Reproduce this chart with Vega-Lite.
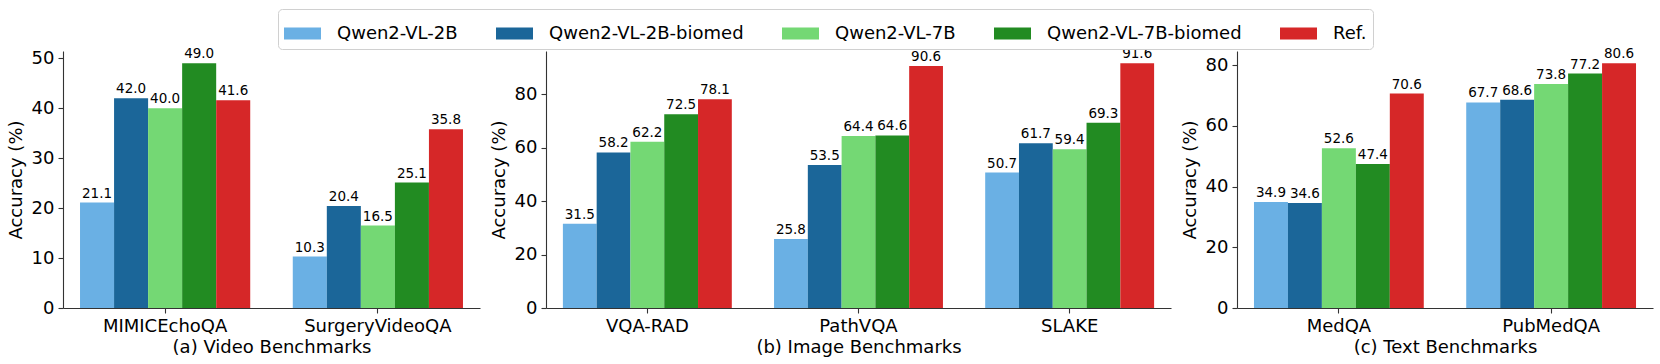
{
  "$schema": "https://vega.github.io/schema/vega-lite/v6.json",
  "padding": {"left": 7, "top": 8, "right": 5, "bottom": 5},
  "autosize": {"type": "pad"},
  "bounds": "flush",
  "spacing": 66,
  "background": "white",
  "config": {
    "font": "DejaVu Sans",
    "view": {"stroke": null},
    "axis": {
      "grid": false,
      "domainColor": "#333333",
      "domainWidth": 1.1,
      "tickColor": "#333333",
      "tickWidth": 1.1,
      "tickSize": 5,
      "labelFont": "DejaVu Sans",
      "labelFontSize": 18,
      "labelColor": "black",
      "labelPadding": 4,
      "titleFont": "DejaVu Sans",
      "titleFontSize": 18,
      "titleFontWeight": "normal",
      "titleColor": "black"
    },
    "axisX": {"labelAngle": 0, "titlePadding": 3},
    "axisY": {"titlePadding": 6},
    "legend": {
      "labelFont": "DejaVu Sans",
      "labelFontSize": 18,
      "labelColor": "black",
      "labelLimit": 0,
      "gridAlign": "none",
      "symbolType": "M-1,-0.324L1,-0.324L1,0.324L-1,0.324Z",
      "symbolSize": 1369,
      "symbolStrokeWidth": 0,
      "labelOffset": 16,
      "columnPadding": 38,
      "padding": 6,
      "strokeColor": "#d0d0d0",
      "fillColor": "white",
      "cornerRadius": 4
    }
  },
  "datasets": {
    "d": [
      {"panel": "a", "benchmark": "MIMICEchoQA", "model": "Qwen2-VL-2B", "value": 21.1},
      {"panel": "a", "benchmark": "MIMICEchoQA", "model": "Qwen2-VL-2B-biomed", "value": 42.0},
      {"panel": "a", "benchmark": "MIMICEchoQA", "model": "Qwen2-VL-7B", "value": 40.0},
      {"panel": "a", "benchmark": "MIMICEchoQA", "model": "Qwen2-VL-7B-biomed", "value": 49.0},
      {"panel": "a", "benchmark": "MIMICEchoQA", "model": "Ref.", "value": 41.6},
      {"panel": "a", "benchmark": "SurgeryVideoQA", "model": "Qwen2-VL-2B", "value": 10.3},
      {"panel": "a", "benchmark": "SurgeryVideoQA", "model": "Qwen2-VL-2B-biomed", "value": 20.4},
      {"panel": "a", "benchmark": "SurgeryVideoQA", "model": "Qwen2-VL-7B", "value": 16.5},
      {"panel": "a", "benchmark": "SurgeryVideoQA", "model": "Qwen2-VL-7B-biomed", "value": 25.1},
      {"panel": "a", "benchmark": "SurgeryVideoQA", "model": "Ref.", "value": 35.8},
      {"panel": "b", "benchmark": "VQA-RAD", "model": "Qwen2-VL-2B", "value": 31.5},
      {"panel": "b", "benchmark": "VQA-RAD", "model": "Qwen2-VL-2B-biomed", "value": 58.2},
      {"panel": "b", "benchmark": "VQA-RAD", "model": "Qwen2-VL-7B", "value": 62.2},
      {"panel": "b", "benchmark": "VQA-RAD", "model": "Qwen2-VL-7B-biomed", "value": 72.5},
      {"panel": "b", "benchmark": "VQA-RAD", "model": "Ref.", "value": 78.1},
      {"panel": "b", "benchmark": "PathVQA", "model": "Qwen2-VL-2B", "value": 25.8},
      {"panel": "b", "benchmark": "PathVQA", "model": "Qwen2-VL-2B-biomed", "value": 53.5},
      {"panel": "b", "benchmark": "PathVQA", "model": "Qwen2-VL-7B", "value": 64.4},
      {"panel": "b", "benchmark": "PathVQA", "model": "Qwen2-VL-7B-biomed", "value": 64.6},
      {"panel": "b", "benchmark": "PathVQA", "model": "Ref.", "value": 90.6},
      {"panel": "b", "benchmark": "SLAKE", "model": "Qwen2-VL-2B", "value": 50.7},
      {"panel": "b", "benchmark": "SLAKE", "model": "Qwen2-VL-2B-biomed", "value": 61.7},
      {"panel": "b", "benchmark": "SLAKE", "model": "Qwen2-VL-7B", "value": 59.4},
      {"panel": "b", "benchmark": "SLAKE", "model": "Qwen2-VL-7B-biomed", "value": 69.3},
      {"panel": "b", "benchmark": "SLAKE", "model": "Ref.", "value": 91.6},
      {"panel": "c", "benchmark": "MedQA", "model": "Qwen2-VL-2B", "value": 34.9},
      {"panel": "c", "benchmark": "MedQA", "model": "Qwen2-VL-2B-biomed", "value": 34.6},
      {"panel": "c", "benchmark": "MedQA", "model": "Qwen2-VL-7B", "value": 52.6},
      {"panel": "c", "benchmark": "MedQA", "model": "Qwen2-VL-7B-biomed", "value": 47.4},
      {"panel": "c", "benchmark": "MedQA", "model": "Ref.", "value": 70.6},
      {"panel": "c", "benchmark": "PubMedQA", "model": "Qwen2-VL-2B", "value": 67.7},
      {"panel": "c", "benchmark": "PubMedQA", "model": "Qwen2-VL-2B-biomed", "value": 68.6},
      {"panel": "c", "benchmark": "PubMedQA", "model": "Qwen2-VL-7B", "value": 73.8},
      {"panel": "c", "benchmark": "PubMedQA", "model": "Qwen2-VL-7B-biomed", "value": 77.2},
      {"panel": "c", "benchmark": "PubMedQA", "model": "Ref.", "value": 80.6}
    ]
  },
  "resolve": {"scale": {"x": "independent", "y": "independent", "xOffset": "independent", "color": "shared"}},
  "hconcat": [
    {
      "width": 417,
      "height": 257,
      "data": {"name": "d"},
      "transform": [{"filter": "datum.panel === 'a'"}],
      "encoding": {
        "x": {"field": "benchmark", "type": "nominal", "sort": ["MIMICEchoQA", "SurgeryVideoQA"], "scale": {"paddingInner": 0.2, "paddingOuter": 0.08}, "axis": {"title": "(a) Video Benchmarks"}},
        "xOffset": {"field": "model", "type": "nominal", "sort": ["Qwen2-VL-2B", "Qwen2-VL-2B-biomed", "Qwen2-VL-7B", "Qwen2-VL-7B-biomed", "Ref."], "scale": {"paddingInner": 0, "paddingOuter": 0}},
        "y": {"field": "value", "type": "quantitative", "scale": {"domain": [0, 51.45], "nice": false}, "axis": {"title": "Accuracy (%)", "values": [0, 10, 20, 30, 40, 50]}}
      },
      "layer": [
        {
          "mark": {"type": "bar"},
          "encoding": {
            "color": {"field": "model", "type": "nominal", "scale": {"domain": ["Qwen2-VL-2B", "Qwen2-VL-2B-biomed", "Qwen2-VL-7B", "Qwen2-VL-7B-biomed", "Ref."], "range": ["#6AB0E4", "#1B6699", "#74D874", "#228B22", "#D62728"]}, "legend": {"title": null, "orient": "none", "direction": "horizontal", "columns": 5, "legendX": 215, "legendY": -42}}
          }
        },
        {
          "mark": {"type": "text", "align": "center", "baseline": "alphabetic", "dy": -5, "fontSize": 13.5, "color": "black"},
          "encoding": {"text": {"field": "value", "type": "quantitative", "format": ".1f"}}
        }
      ]
    },
    {
      "width": 625,
      "height": 257,
      "data": {"name": "d"},
      "transform": [{"filter": "datum.panel === 'b'"}],
      "encoding": {
        "x": {"field": "benchmark", "type": "nominal", "sort": ["VQA-RAD", "PathVQA", "SLAKE"], "scale": {"paddingInner": 0.2, "paddingOuter": 0.08}, "axis": {"title": "(b) Image Benchmarks"}},
        "xOffset": {"field": "model", "type": "nominal", "sort": ["Qwen2-VL-2B", "Qwen2-VL-2B-biomed", "Qwen2-VL-7B", "Qwen2-VL-7B-biomed", "Ref."], "scale": {"paddingInner": 0, "paddingOuter": 0}},
        "y": {"field": "value", "type": "quantitative", "scale": {"domain": [0, 96.18], "nice": false}, "axis": {"title": "Accuracy (%)", "values": [0, 20, 40, 60, 80]}}
      },
      "layer": [
        {
          "mark": {"type": "bar"},
          "encoding": {
            "color": {"field": "model", "type": "nominal", "scale": {"domain": ["Qwen2-VL-2B", "Qwen2-VL-2B-biomed", "Qwen2-VL-7B", "Qwen2-VL-7B-biomed", "Ref."], "range": ["#6AB0E4", "#1B6699", "#74D874", "#228B22", "#D62728"]}, "legend": {"title": null, "orient": "none", "direction": "horizontal", "columns": 5, "legendX": 215, "legendY": -42}}
          }
        },
        {
          "mark": {"type": "text", "align": "center", "baseline": "alphabetic", "dy": -5, "fontSize": 13.5, "color": "black"},
          "encoding": {"text": {"field": "value", "type": "quantitative", "format": ".1f"}}
        }
      ]
    },
    {
      "width": 416,
      "height": 257,
      "data": {"name": "d"},
      "transform": [{"filter": "datum.panel === 'c'"}],
      "encoding": {
        "x": {"field": "benchmark", "type": "nominal", "sort": ["MedQA", "PubMedQA"], "scale": {"paddingInner": 0.2, "paddingOuter": 0.08}, "axis": {"title": "(c) Text Benchmarks"}},
        "xOffset": {"field": "model", "type": "nominal", "sort": ["Qwen2-VL-2B", "Qwen2-VL-2B-biomed", "Qwen2-VL-7B", "Qwen2-VL-7B-biomed", "Ref."], "scale": {"paddingInner": 0, "paddingOuter": 0}},
        "y": {"field": "value", "type": "quantitative", "scale": {"domain": [0, 84.63], "nice": false}, "axis": {"title": "Accuracy (%)", "values": [0, 20, 40, 60, 80]}}
      },
      "layer": [
        {
          "mark": {"type": "bar"},
          "encoding": {
            "color": {"field": "model", "type": "nominal", "scale": {"domain": ["Qwen2-VL-2B", "Qwen2-VL-2B-biomed", "Qwen2-VL-7B", "Qwen2-VL-7B-biomed", "Ref."], "range": ["#6AB0E4", "#1B6699", "#74D874", "#228B22", "#D62728"]}, "legend": {"title": null, "orient": "none", "direction": "horizontal", "columns": 5, "legendX": 215, "legendY": -42}}
          }
        },
        {
          "mark": {"type": "text", "align": "center", "baseline": "alphabetic", "dy": -5, "fontSize": 13.5, "color": "black"},
          "encoding": {"text": {"field": "value", "type": "quantitative", "format": ".1f"}}
        }
      ]
    }
  ]
}
